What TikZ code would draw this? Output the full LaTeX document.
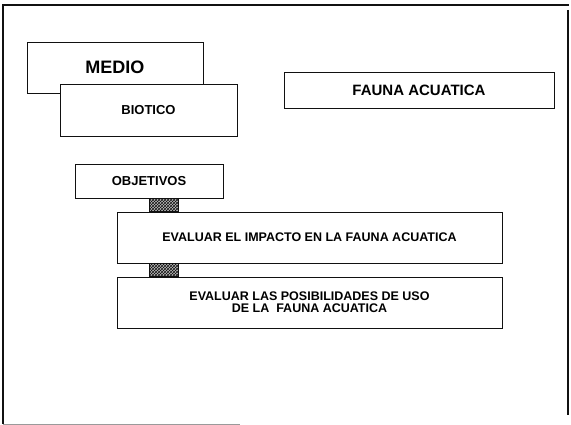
\documentclass[tikz,border=0pt]{standalone}
\usepackage{fontspec}
\setmainfont{Liberation Sans}
\usepackage{tikz}
\usetikzlibrary{positioning, calc, patterns}
\usepackage{xcolor}
\definecolor{scanblack}{HTML}{111111}
\definecolor{scangray}{HTML}{9A9A9A}
\definecolor{hatchgray}{HTML}{7A7A7A}

\begin{document}
\begin{tikzpicture}[x=1pt,y=-1pt,font=\bfseries,
    box/.style={draw=scanblack,line width=0.9pt,fill=white,inner sep=0pt,align=center},
    link/.style={draw=scanblack,line width=0.5pt,preaction={fill=hatchgray!50},pattern=crosshatch,pattern color=scanblack}]
        \useasboundingbox (0,0) rectangle (571,425);
        % frame of the sheet
        \draw[scanblack,line width=2pt] (3,424) -- (3,5) -- (569,5);
        \draw[scanblack,line width=1.2pt] (568,10) -- (568,415);
        \draw[scangray,line width=0.6pt] (3,424) -- (240,424);
        % header boxes
        \node[box,minimum width=176pt,minimum height=51pt] (medio) at (115,67.5) {\fontsize{18}{20}\selectfont MEDIO};
        \node[box,minimum width=177pt,minimum height=52pt] (biotico) at (148.5,110) {\fontsize{13}{15}\selectfont BIOTICO};
        \node[box,minimum width=270pt,minimum height=36pt] (fauna) at (419,90) {\fontsize{15}{17}\selectfont FAUNA ACUATICA};
        % objectives
        \node[box,minimum width=148pt,minimum height=34pt] (obj) at (149,181) {\fontsize{13}{15}\selectfont OBJETIVOS};
        \node[box,minimum width=385pt,minimum height=51pt] (ev1) at (309.5,237.5) {\fontsize{12.5}{14.5}\selectfont EVALUAR EL IMPACTO EN LA FAUNA ACUATICA};
        \node[box,minimum width=385pt,minimum height=51pt] (ev2) at (309.5,302.5) {\fontsize{12.5}{14.5}\selectfont EVALUAR LAS POSIBILIDADES DE USO\\\fontsize{12.5}{14.5}\selectfont DE LA\ \ FAUNA ACUATICA};
        % hatched links
        \path[link] ($(obj.south west)+(75,0)$) rectangle ($(ev1.north west)+(62,0)$);
        \path[link] ($(ev1.south west)+(33,0)$) rectangle ($(ev2.north west)+(62,0)$);
      \end{tikzpicture}
\end{document}
